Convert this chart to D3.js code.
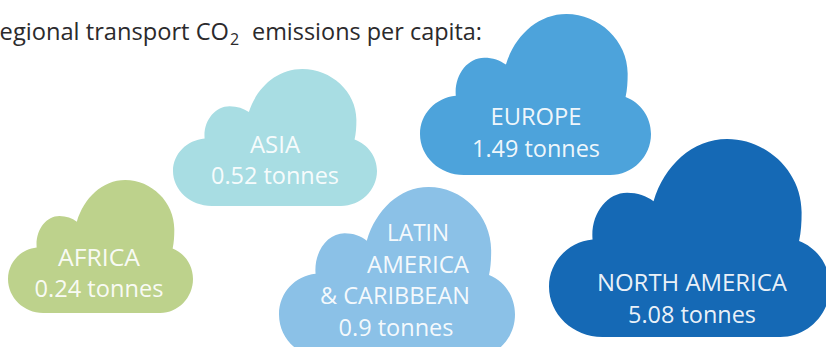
<!DOCTYPE html>
<html>
<head>
<meta charset="utf-8">
<script src="https://cdn.jsdelivr.net/npm/d3@7/dist/d3.min.js"></script>
<style>
html,body{margin:0;padding:0;background:#fff;overflow:hidden}
svg{display:block}
text{font-family:"Open Sans",sans-serif}
</style>
</head>
<body>
<svg id="chart" width="826" height="347"></svg>
<script>
// Regional per-capita figures
const regions = ["AFRICA", "ASIA", "EUROPE", "LATIN AMERICA & CARIBBEAN", "NORTH AMERICA"];
const tonnes = [0.24, 0.52, 1.49, 0.9, 5.08];
const valueLabels = ["0.24", "0.52", "1.49", "0.9", "5.08"];
const nameLines = [["AFRICA"], ["ASIA"], ["EUROPE"], ["LATIN", "AMERICA", "& CARIBBEAN"], ["NORTH AMERICA"]];

// Cloud placement: [left, right, top, bottom] of each cloud on the page
const boxes = [
  [8, 193, 180, 313],
  [173, 377, 69, 206],
  [420, 651, 14, 175],
  [279, 515, 187, 358],
  [549, 830, 139, 337]
];
const fills = ["#bdd28c", "#a8dde3", "#4da3db", "#8bc1e7", "#1569b5"];
// Horizontal centre of each text line, and the first baseline with its line step
const lineCentres = [[99, 99], [275, 275], [536, 536], [418, 418, 395, 396], [692, 692]];
const firstBaselines = [266, 153, 125, 241, 291];
const lineSteps = [31, 31, 32, 31.7, 31.5];
const labelWidths = [[82, 129], [50, 128], [91, 128], [62, 102, 150, 115], [190, 128]];

const svg = d3.select("#chart");

// Outline of one cloud, built on unit scales so every region shares the shape
function cloudPath(x, y) {
  const p = d3.path();
  const m = (a, b) => [x(a), y(b)];
  p.moveTo(...m(0.19, 1));
  p.bezierCurveTo(...m(0.085, 1), ...m(0, 0.885), ...m(0, 0.745));
  p.bezierCurveTo(...m(0, 0.62), ...m(0.068, 0.52), ...m(0.155, 0.508));
  p.bezierCurveTo(...m(0.147, 0.38), ...m(0.205, 0.271), ...m(0.278, 0.271));
  p.bezierCurveTo(...m(0.315, 0.271), ...m(0.347, 0.287), ...m(0.372, 0.314));
  p.bezierCurveTo(...m(0.41, 0.135), ...m(0.51, 0), ...m(0.634, 0));
  p.bezierCurveTo(...m(0.775, 0), ...m(0.899, 0.165), ...m(0.899, 0.37));
  p.bezierCurveTo(...m(0.899, 0.425), ...m(0.897, 0.47), ...m(0.89, 0.515));
  p.bezierCurveTo(...m(0.955, 0.55), ...m(1, 0.64), ...m(1, 0.745));
  p.bezierCurveTo(...m(1, 0.885), ...m(0.92, 1), ...m(0.823, 1));
  p.closePath();
  return p.toString();
}

regions.forEach((region, i) => {
  const [l, r, t, b] = boxes[i];
  const x = d3.scaleLinear().domain([0, 1]).range([l, r]);
  const y = d3.scaleLinear().domain([0, 1]).range([t, b]);
  const g = svg.append("g").attr("class", "region").attr("aria-label", region);
  g.append("path").attr("d", cloudPath(x, y)).attr("fill", fills[i]);

  const lines = nameLines[i].concat(`${valueLabels[i]} tonnes`);
  g.selectAll("text").data(lines).join("text")
    .attr("x", (d, k) => lineCentres[i][k])
    .attr("y", (d, k) => firstBaselines[i] + k * lineSteps[i])
    .attr("text-anchor", "middle")
    .attr("font-size", 24)
    .attr("fill", "#fff")
    .attr("fill-opacity", 0.93)
    .attr("textLength", (d, k) => labelWidths[i][k])
    .attr("lengthAdjust", "spacingAndGlyphs")
    .text(d => d);
});

// Heading, set so the first letter runs off the page edge
const headingStyle = sel => sel.attr("font-size", 24).attr("fill", "#2b2a2c")
  .attr("lengthAdjust", "spacingAndGlyphs");
svg.append("text").call(headingStyle)
  .attr("x", -15).attr("y", 40).attr("textLength", 244)
  .text("Regional transport CO");
svg.append("text").attr("x", 230).attr("y", 45)
  .attr("font-size", 16).attr("fill", "#2b2a2c").text("2");
svg.append("text").call(headingStyle)
  .attr("x", 252).attr("y", 40).attr("textLength", 230)
  .text("emissions per capita:");
</script>
</body>
</html>
